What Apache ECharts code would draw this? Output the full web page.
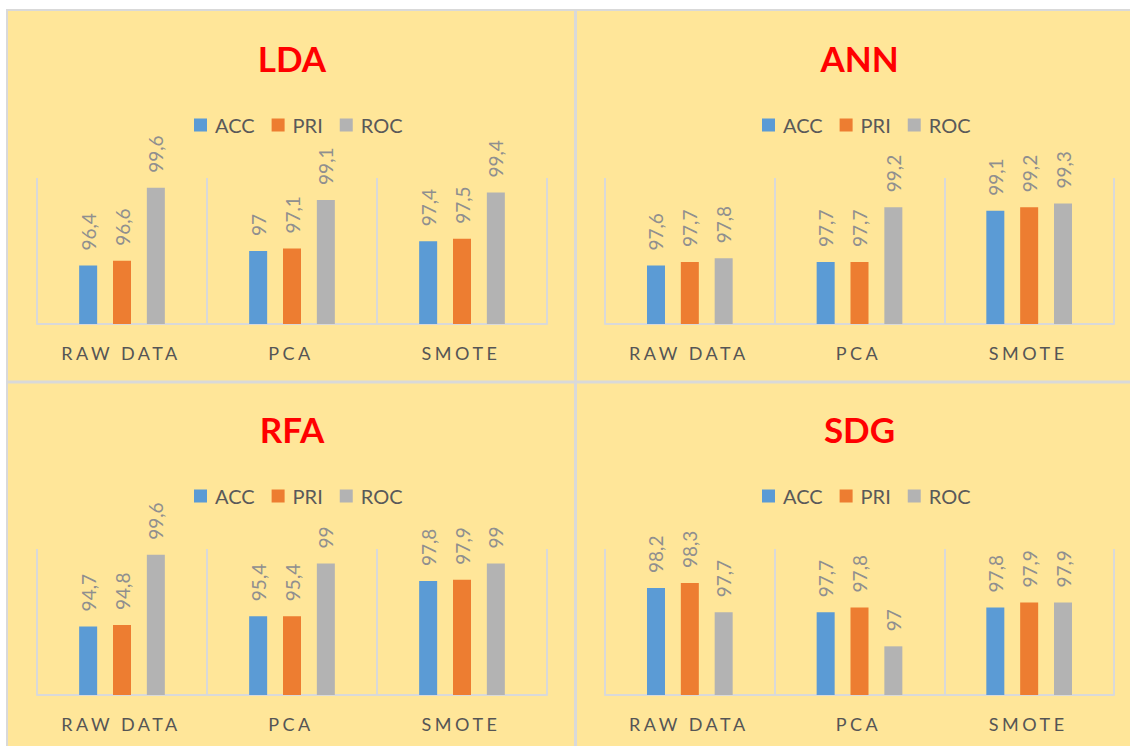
<!DOCTYPE html>
<html>
<head>
<meta charset="utf-8">
<script src="https://cdn.jsdelivr.net/npm/echarts@6/dist/echarts.min.js"></script>
<style>
  html, body { margin: 0; padding: 0; background: #ffffff; }
  #chart { width: 1130px; height: 746px; }
</style>
</head>
<body>
<div id="chart"></div>
<script>
// Category groups and metric names
const categories = ['RAW DATA', 'PCA', 'SMOTE'];
const metrics = ['ACC', 'PRI', 'ROC'];

// Scores per classifier (ACC, PRI, ROC) across RAW DATA / PCA / SMOTE
const ldaAcc = [96.4, 97.0, 97.4];
const ldaPri = [96.6, 97.1, 97.5];
const ldaRoc = [99.6, 99.1, 99.4];

const annAcc = [97.6, 97.7, 99.1];
const annPri = [97.7, 97.7, 99.2];
const annRoc = [97.8, 99.2, 99.3];

const rfaAcc = [94.7, 95.4, 97.8];
const rfaPri = [94.8, 95.4, 97.9];
const rfaRoc = [99.6, 99.0, 99.0];

const sdgAcc = [98.2, 97.7, 97.8];
const sdgPri = [98.3, 97.8, 97.9];
const sdgRoc = [97.7, 97.0, 97.9];

// Panel titles and value-axis ranges
const panelTitles = ['LDA', 'ANN', 'RFA', 'SDG'];
const axisMins = [94, 96, 90, 96];
const axisMaxs = [100, 100, 100, 99];

const panelData = [
  [ldaAcc, ldaPri, ldaRoc],
  [annAcc, annPri, annRoc],
  [rfaAcc, rfaPri, rfaRoc],
  [sdgAcc, sdgPri, sdgRoc]
];

const FONT = 'Lato, "Open Sans", "DejaVu Sans", sans-serif';
const barColors = ['#5B9BD5', '#ED7D31', '#B3B3B3'];
const rule = '#D9D9D9';

// Panel layout: plot rectangles in a 2x2 arrangement
const colLeft = [37, 605];
const colWidth = [510, 509];
const rowTop = [178, 549];
const plotHeight = 146;

const grids = [], xAxes = [], yAxes = [], titles = [], legends = [], series = [];

panelTitles.forEach((name, i) => {
  const c = i % 2, r = Math.floor(i / 2);
  const left = colLeft[c], top = rowTop[r], w = colWidth[c];
  grids.push({ left: left, top: top, width: w, height: plotHeight, containLabel: false });
  xAxes.push({
    type: 'category',
    gridIndex: i,
    data: categories,
    axisLine: { show: true, lineStyle: { color: rule, width: 2 } },
    axisTick: { show: false },
    splitLine: { show: true, interval: 0, lineStyle: { color: rule, width: 2 } },
    axisLabel: { interval: 0, margin: 20, fontSize: 18, color: '#555555', fontFamily: FONT }
  });
  yAxes.push({
    type: 'value',
    gridIndex: i,
    min: axisMins[i],
    max: axisMaxs[i],
    show: false,
    splitLine: { show: false }
  });
  titles.push({
    text: name,
    left: left + w / 2,
    top: top - 138,
    padding: 0,
    textAlign: 'center',
    textStyle: { color: '#FF0000', fontSize: 35, fontWeight: 'bold', fontFamily: FONT }
  });
  legends.push({
    data: metrics,
    left: c === 0 ? 194 : 762,
    top: top - 63,
    padding: 0,
    icon: 'rect',
    itemWidth: 13,
    itemHeight: 13,
    itemGap: 17,
    selectedMode: false,
    textStyle: { fontSize: 20, color: '#595959', fontFamily: FONT, padding: [0, 0, 0, 3] }
  });
  metrics.forEach((m, k) => {
    series.push({
      name: m,
      type: 'bar',
      xAxisIndex: i,
      yAxisIndex: i,
      data: panelData[i][k],
      barWidth: 18,
      barGap: '88%',
      itemStyle: { color: barColors[k] },
      label: {
        show: true,
        position: 'top',
        rotate: 90,
        align: 'left',
        verticalAlign: 'middle',
        distance: 15,
        fontSize: 19,
        color: '#8F8F8F',
        fontFamily: FONT,
        formatter: p => String(p.value).replace('.', ',')
      }
    });
  });
});

// Yellow sheet with thin grey frame and panel dividers
const graphic = [
  { type: 'rect', z: -100, shape: { x: 7, y: 10, width: 1123, height: 736 },
    style: { fill: '#FFE699' }, silent: true },
  { type: 'line', z: -90, shape: { x1: 6, y1: 10, x2: 1130, y2: 10 },
    style: { stroke: rule, lineWidth: 2 }, silent: true },
  { type: 'line', z: -90, shape: { x1: 7, y1: 10, x2: 7, y2: 746 },
    style: { stroke: rule, lineWidth: 2 }, silent: true },
  { type: 'line', z: -90, shape: { x1: 575.5, y1: 10, x2: 575.5, y2: 746 },
    style: { stroke: rule, lineWidth: 3 }, silent: true },
  { type: 'line', z: -90, shape: { x1: 7, y1: 382, x2: 1130, y2: 382 },
    style: { stroke: rule, lineWidth: 3 }, silent: true }
];

const chart = echarts.init(document.getElementById('chart'), null, { renderer: 'svg' });
chart.setOption({
  animation: false,
  backgroundColor: '#ffffff',
  graphic: graphic,
  title: titles,
  legend: legends,
  grid: grids,
  xAxis: xAxes,
  yAxis: yAxes,
  series: series
});

// Widen the tracking of the category labels
function spaceCategoryLabels() {
  const svg = document.querySelector('#chart svg');
  if (!svg) return;
  svg.querySelectorAll('text').forEach(t => {
    if (categories.indexOf(t.textContent) >= 0) {
      t.setAttribute('letter-spacing', '3.5');
      t.setAttribute('dx', '-1');
    }
  });
}
spaceCategoryLabels();
chart.on('finished', spaceCategoryLabels);
</script>
</body>
</html>
